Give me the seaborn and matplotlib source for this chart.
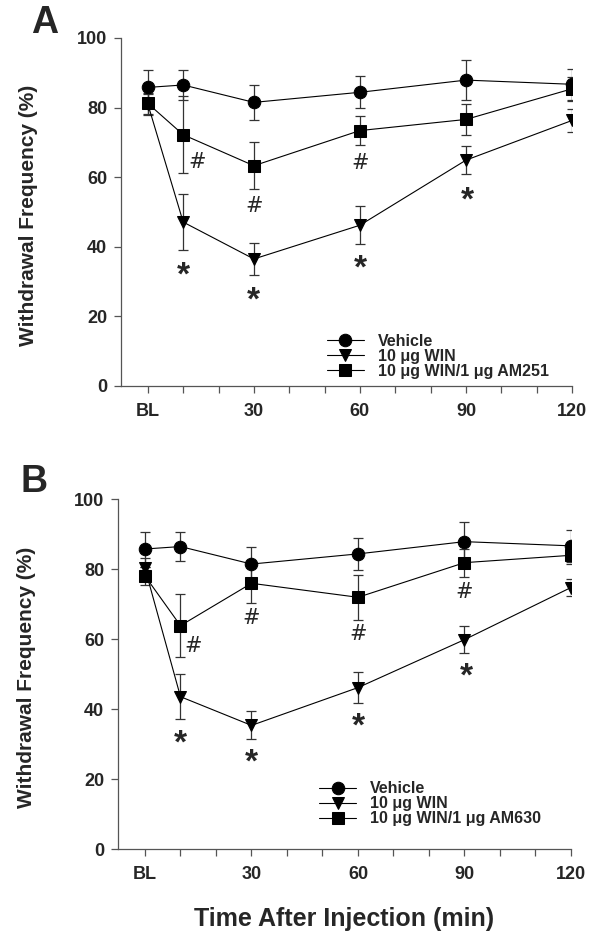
import matplotlib
matplotlib.use("Agg")
import matplotlib.pyplot as plt
import seaborn as sns
import pandas as pd
import numpy as np
from matplotlib.ticker import MultipleLocator

sns.set_style("ticks")
plt.rcParams['font.family'] = ['Liberation Sans', 'DejaVu Sans']
plt.rcParams['font.weight'] = 'bold'

# ---------------- data ----------------
times = [0, 10, 30, 60, 90, 120]
tick_pos = [0, 30, 60, 90, 120]
tick_labels = ["BL", "30", "60", "90", "120"]
y_ticks = [0, 20, 40, 60, 80, 100]

vehicle_mean = [85.8, 86.5, 81.5, 84.4, 87.9, 86.7]
vehicle_sem = [5.0, 4.2, 5.0, 4.6, 5.7, 4.5]

# Panel A
winA_mean = [81.0, 47.1, 36.5, 46.2, 64.9, 76.3]
winA_sem = [3.0, 8.0, 4.6, 5.5, 4.0, 3.2]
am251_mean = [81.2, 72.2, 63.3, 73.4, 76.6, 85.4]
am251_sem = [3.0, 11.0, 6.8, 4.2, 4.4, 3.5]

# Panel B
winB_mean = [80.3, 43.6, 35.4, 46.2, 59.9, 74.8]
winB_sem = [3.0, 6.5, 4.0, 4.4, 3.9, 2.5]
am630_mean = [78.1, 63.9, 76.0, 72.0, 81.9, 84.0]
am630_sem = [2.5, 9.0, 5.5, 6.5, 4.0, 2.5]

labels_A = ["Vehicle", "10 μg WIN", "10 μg WIN/1 μg AM251"]
labels_B = ["Vehicle", "10 μg WIN", "10 μg WIN/1 μg AM630"]

# significance annotations (time, y)
hashA_t = [13.8, 30, 60]
hashA_y = [64.3, 51.7, 64.0]
starA_t = [10, 30, 60, 90.5]
starA_y = [34.2, 27.0, 36.1, 55.7]

hashB_t = [13.5, 30, 60, 90]
hashB_y = [58.0, 66.0, 61.5, 73.6]
starB_t = [10, 30, 60, 90.5]
starB_y = [32.7, 27.2, 37.4, 51.7]

markers = ["o", "v", "s"]

fig = plt.figure(figsize=(6.12, 9.39), dpi=100)
axA = fig.add_axes([121/612, 1-386/939, 451/612, 348/939])
axB = fig.add_axes([118/612, 1-849.3/939, 453/612, 350/939])


def draw(ax, means, sems, labels, hash_t, hash_y, star_t, star_y, leg_anchor,
         ylab_x):
    rows = []
    for lab, m in zip(labels, means):
        for t, v in zip(times, m):
            rows.append({"time": t, "value": v, "group": lab})
    df = pd.DataFrame(rows)
    for lab, m, s in zip(labels, means, sems):
        ax.errorbar(times, m, yerr=s, fmt="none", ecolor="#333333",
                    elinewidth=0.9, capsize=3.5, capthick=0.9, zorder=1)
    sns.lineplot(data=df, x="time", y="value", hue="group", style="group",
                 hue_order=labels, style_order=labels,
                 palette=["black"] * 3, markers=markers, dashes=False,
                 markersize=9, markeredgecolor="black", linewidth=0.8,
                 ax=ax, zorder=3, legend=True)
    for t, y in zip(hash_t, hash_y):
        ax.text(t, y, "#", ha="center", va="center", fontsize=15,
                fontweight="normal", family=["DejaVu Sans"])
    for t, y in zip(star_t, star_y):
        ax.text(t, y - 2.5, "*", ha="center", va="center", fontsize=24,
                fontweight="bold")
    ax.set_xlim(-7.6, 120)
    ax.set_ylim(0, 100)
    ax.set_xticks(tick_pos)
    ax.set_xticklabels(tick_labels)
    ax.xaxis.set_minor_locator(MultipleLocator(10))
    ax.set_yticks(y_ticks)
    ax.tick_params(axis="both", which="both", direction="out", length=5,
                   width=0.9, color="#555555", labelsize=13, pad=5)
    ax.tick_params(axis="x", pad=7)
    for lbl in ax.get_xticklabels() + ax.get_yticklabels():
        lbl.set_fontweight("bold")
    for sp in ["top", "right"]:
        ax.spines[sp].set_visible(False)
    for sp in ["left", "bottom"]:
        ax.spines[sp].set_color("#555555")
        ax.spines[sp].set_linewidth(0.9)
    ax.set_xlabel("")
    ax.set_ylabel("Withdrawal Frequency (%)", fontsize=15, fontweight="bold")
    ax.yaxis.set_label_coords(ylab_x, 0.49)
    h, l = ax.get_legend_handles_labels()
    ax.legend(h, l, loc="lower left", bbox_to_anchor=leg_anchor, frameon=False,
              borderpad=0, borderaxespad=0, handlelength=2.3,
              handletextpad=0.9, labelspacing=0.0,
              prop={"weight": "bold", "size": 11.5})


draw(axA, [vehicle_mean, winA_mean, am251_mean],
     [vehicle_sem, winA_sem, am251_sem], labels_A,
     hashA_t, hashA_y, starA_t, starA_y, (0.457, 0.02), -0.185)
draw(axB, [vehicle_mean, winB_mean, am630_mean],
     [vehicle_sem, winB_sem, am630_sem], labels_B,
     hashB_t, hashB_y, starB_t, starB_y, (0.444, 0.066), -0.18)

axB.set_xlabel("Time After Injection (min)", fontsize=18, fontweight="bold",
               labelpad=17)

fig.text(45/612, 1-23/939, "A", fontsize=27, fontweight="bold",
         ha="center", va="center")
fig.text(34/612, 1-482/939, "B", fontsize=27, fontweight="bold",
         ha="center", va="center")

fig.savefig("out.png", dpi=100)
